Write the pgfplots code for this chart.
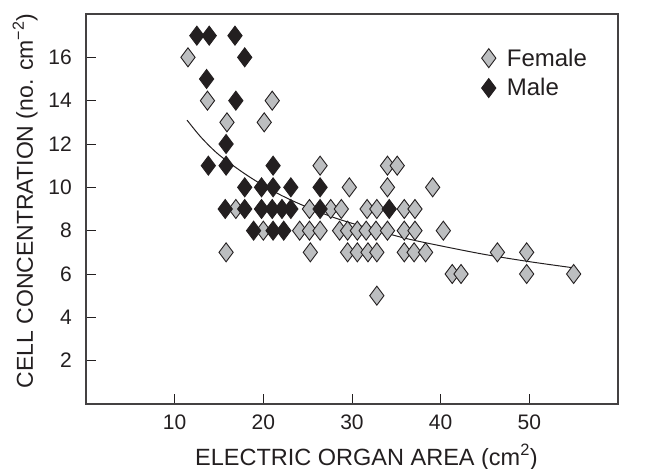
\documentclass[border=0pt]{standalone}
\usepackage{fontspec}
\setmainfont{Liberation Sans}
\usepackage{pgfplots}
\pgfplotsset{compat=1.18}
\definecolor{ink}{HTML}{231F20}
\definecolor{fem}{HTML}{BCBEC0}
\begin{document}
\begin{tikzpicture}
\path[use as bounding box] (-86pt,-65pt) rectangle (568pt,404pt);
\begin{axis}[
  at={(0,0)}, anchor=south west, scale only axis,
  width=532pt, height=390pt,
  xmin=0, xmax=60, ymin=0, ymax=18,
  xtick={10,20,30,40,50}, ytick={2,4,6,8,10,12,14,16},
  tick align=inside, xtick pos=bottom, ytick pos=left,
  major tick length=10pt,
  axis line style={ink!85, line width=1.1pt},
  tick style={ink, line width=0.9pt},
  /pgf/number format/assume math mode=true,
  ticklabel style={font=\fontsize{21}{24}\selectfont, text=ink, inner sep=0pt},
  xticklabel style={anchor=base, yshift=-25pt},
  yticklabel style={anchor=east, xshift=-14pt},
  legend style={at={(axis cs:44.6,16.5)}, anchor=north west, draw=none, fill=none,
    font=\fontsize{24}{28}\selectfont, text=ink, row sep=7pt, column sep=9pt, inner sep=0pt},
  legend cell align=left,
  legend image code/.code={\draw[#1] plot coordinates {(0pt,0pt)};},
]
\addplot[only marks, mark=diamond*, mark size=9.5pt, mark options={fill=fem, draw=ink, line width=0.9pt}]
coordinates {
(11.5,16)
(13.7,14)(21.0,14)
(15.9,13)(20.1,13)
(26.4,11)(34.0,11)(35.1,11)
(29.7,10)(34.0,10)(39.1,10)
(16.9,9)(25.2,9)(27.6,9)(28.8,9)(31.7,9)(32.8,9)(35.9,9)(37.1,9)
(20.0,8)(24.1,8)(25.2,8)(26.4,8)(28.6,8)(29.5,8)(30.6,8)(31.6,8)(32.7,8)(34.0,8)(35.9,8)(37.1,8)(40.3,8)
(15.8,7)(25.3,7)(29.5,7)(30.6,7)(31.8,7)(32.8,7)(35.9,7)(37.0,7)(38.3,7)(46.4,7)(49.7,7)
(41.3,6)(42.3,6)(49.7,6)(55.0,6)
(32.8,5)
};
\addlegendentry{Female}
\addplot[only marks, mark=diamond*, mark size=9.5pt, mark options={fill=ink, draw=ink, line width=0.9pt}]
coordinates {
(12.5,17)(13.9,17)(16.8,17)
(17.9,16)
(13.6,15)
(16.9,14)
(15.8,12)
(13.8,11)(15.8,11)(21.1,11)
(17.9,10)(19.8,10)(21.1,10)(23.1,10)(26.4,10)
(15.7,9)(17.9,9)(19.8,9)(21.0,9)(22.1,9)(23.1,9)(26.4,9)(34.2,9)
(18.9,8)(21.1,8)(22.3,8)
};
\addlegendentry{Male}
\addplot[ink, line width=1pt, smooth, no marks, forget plot]
coordinates {
(11.4,13.1)(13,12.3)(15,11.5)(18,10.6)(21,9.85)(24,9.25)(28,8.6)(32,8.1)(36,7.65)(40,7.3)(45,6.9)(50,6.57)(54.7,6.3)
};
\end{axis}
\node[rotate=90, anchor=base, font=\fontsize{23}{27}\selectfont, text=ink] at (-53pt,203pt) {CELL CONCENTRATION (no. cm\textsuperscript{−2})};
\node[anchor=base, font=\fontsize{23.5}{27}\selectfont, text=ink] at (280.5pt,-61pt) {ELECTRIC ORGAN AREA (cm\textsuperscript{2})};
\end{tikzpicture}
\end{document}
